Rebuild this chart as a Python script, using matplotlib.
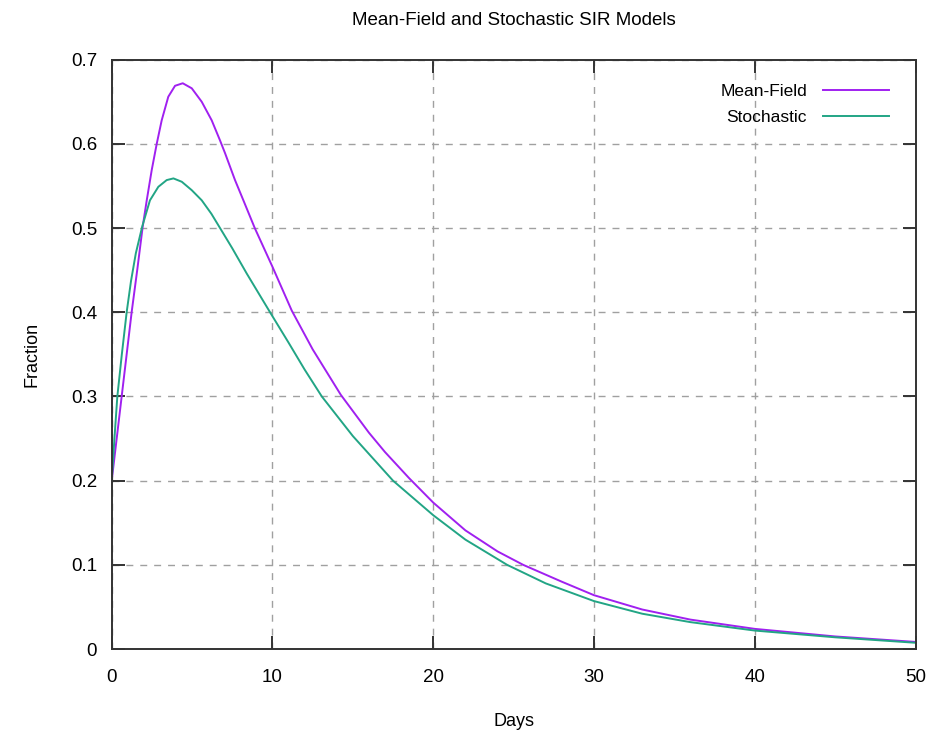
import matplotlib
matplotlib.use('Agg')

import matplotlib.pyplot as plt

plt.rcParams['font.family'] = ['Liberation Sans', 'DejaVu Sans']

# infected fraction over time, mean-field ODE solution
mf_days = [0, 0.31, 0.62, 0.93, 1.24, 1.6, 1.93, 2.18, 2.49, 2.8, 3.11, 3.52,
           3.94, 4.42, 4.98, 5.6, 6.22, 6.74, 7.05, 7.67, 8.19, 8.9, 10, 11.2,
           12.5, 14.25, 16, 17, 18.5, 20, 22, 24, 25.6, 28, 30, 33, 36, 40, 45,
           50]
mf_frac = [0.200, 0.250, 0.300, 0.350, 0.400, 0.452, 0.502, 0.533, 0.569,
           0.600, 0.628, 0.656, 0.669, 0.672, 0.666, 0.650, 0.628, 0.604,
           0.589, 0.557, 0.533, 0.500, 0.454, 0.402, 0.356, 0.302, 0.257,
           0.234, 0.203, 0.174, 0.141, 0.116, 0.100, 0.080, 0.064, 0.047,
           0.035, 0.024, 0.015, 0.0085]

# infected fraction, averaged stochastic runs
st_days = [0, 0.17, 0.35, 0.63, 0.93, 1.2, 1.5, 1.9, 2.38, 2.9, 3.42, 3.84,
           4.36, 4.98, 5.6, 6.2, 6.74, 7.5, 8.4, 9.85, 11, 12, 13.07, 15,
           17.5, 20, 22, 24.6, 27, 30, 33, 36, 40, 45, 50]
st_frac = [0.200, 0.250, 0.300, 0.350, 0.400, 0.437, 0.470, 0.502, 0.533,
           0.549, 0.557, 0.559, 0.555, 0.545, 0.533, 0.517, 0.500, 0.476,
           0.446, 0.400, 0.364, 0.332, 0.300, 0.253, 0.200, 0.159, 0.130,
           0.100, 0.078, 0.057, 0.042, 0.032, 0.022, 0.014, 0.0075]

x_ticks = [0, 10, 20, 30, 40, 50]
y_ticks = [0, 0.1, 0.2, 0.3, 0.4, 0.5, 0.6, 0.7]
y_labels = ['0', '0.1', '0.2', '0.3', '0.4', '0.5', '0.6', '0.7']

fig = plt.figure(figsize=(9.27, 7.35), dpi=100)
ax = fig.add_axes([0.1205, 0.1169, 0.8671, 0.8019])

ax.plot(mf_days, mf_frac, color='#a020f0', lw=1.4, label='Mean-Field',
        solid_joinstyle='round')
ax.plot(st_days, st_frac, color='#22a585', lw=1.4, label='Stochastic',
        solid_joinstyle='round')

ax.set_xlim(0, 50)
ax.set_ylim(0, 0.7)
ax.set_xticks(x_ticks)
ax.set_yticks(y_ticks)
ax.set_yticklabels(y_labels)

# gnuplot-like frame: inward ticks mirrored on all sides
ax.tick_params(direction='in', length=9.5, width=1.4, color='#333333',
               top=True, right=True, labelsize=13.5)
ax.tick_params(axis='x', pad=14)
ax.tick_params(axis='y', pad=10.5)
for sp in ax.spines.values():
    sp.set_color('#333333')
    sp.set_linewidth(1.4)

ax.grid(True, color='#a0a0a0', lw=1.0, linestyle=(0, (5, 5)))
ax.set_axisbelow(True)

ax.set_xlabel('Days', fontsize=13, labelpad=20)
ax.set_ylabel('Fraction', fontsize=13, labelpad=22)
ax.set_title('Mean-Field and Stochastic SIR Models', fontsize=13.5, pad=25)

ax.legend(loc='upper right', bbox_to_anchor=(0.986, 0.985), frameon=False,
          markerfirst=False, handlelength=3.8, handletextpad=0.9,
          labelspacing=0.6, fontsize=12.5)

fig.savefig('out.png', dpi=100)
